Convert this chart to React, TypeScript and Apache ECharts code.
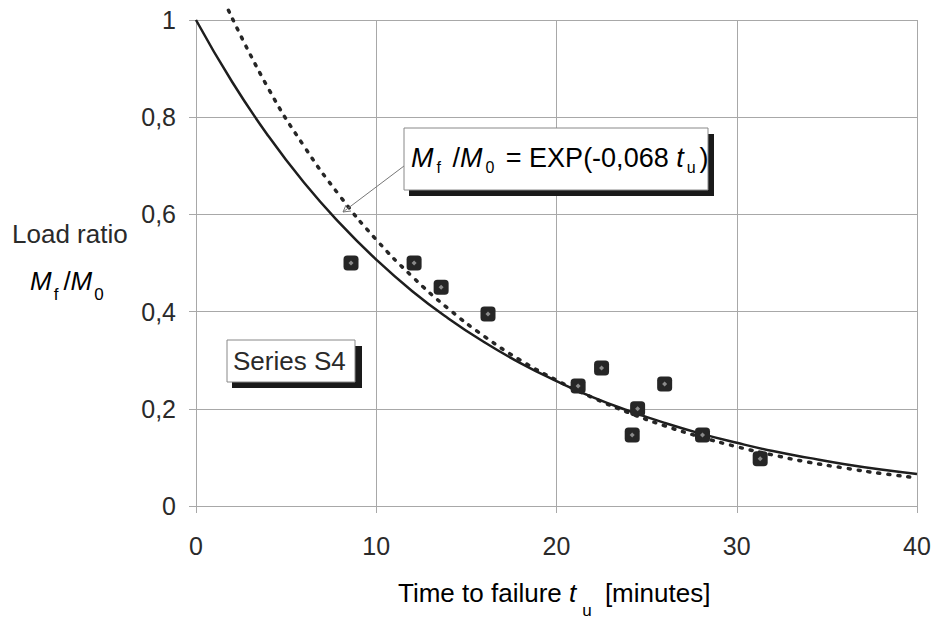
import React, { useEffect, useRef } from "react";
import * as echarts from "echarts";

// Series S4 test points (time to failure t_u [min], load ratio M_f/M_0)
const s4Time = [8.6, 12.1, 13.6, 16.2, 21.2, 22.5, 24.2, 24.5, 26.0, 28.1, 31.3];
const s4Ratio = [0.5, 0.5, 0.45, 0.395, 0.247, 0.284, 0.146, 0.2, 0.251, 0.146, 0.097];

// Solid fitted curve M_f/M_0 = EXP(-0,068 t_u)
const fitTime = [0, 2, 4, 6, 8, 10, 12, 14, 16, 18, 20, 22, 24, 26, 28, 30, 32, 34, 36, 38, 40];
const fitRatio = [1.0, 0.873, 0.762, 0.665, 0.581, 0.507, 0.442, 0.386, 0.337, 0.294, 0.257, 0.224, 0.196, 0.171, 0.149, 0.13, 0.113, 0.099, 0.086, 0.075, 0.066];

// Dotted curve, values
const dotTime = [1.8, 4, 6, 8, 10, 12, 14, 16, 18, 20, 22, 24, 26, 28, 30, 32, 34, 36, 38, 40];
const dotRatio = [1.02, 0.86, 0.74, 0.637, 0.548, 0.472, 0.406, 0.349, 0.3, 0.259, 0.223, 0.192, 0.165, 0.142, 0.122, 0.105, 0.09, 0.078, 0.067, 0.058];

const FONT = "'Liberation Sans', Arial, sans-serif";
const TXT = "#2a2a2a";
const GRID = "#a8a8a8";

// main tokens sit at the top of the line, subscripts at its bottom; line height sets the drop d
const rich = (fs: number, sfs: number, d: number, pl: number, pr: number) => {
  const L = d + fs / 2 + sfs / 2;
  return {
    n: { fontSize: fs, fontFamily: FONT, color: TXT, lineHeight: L, verticalAlign: "top" },
    i: { fontSize: fs, fontFamily: FONT, color: TXT, fontStyle: "italic", lineHeight: L, verticalAlign: "top" },
    s: { fontSize: sfs, fontFamily: FONT, color: TXT, lineHeight: L, verticalAlign: "bottom", padding: [0, pr, 0, pl] },
  };
};

export default function App() {
  const ref = useRef<HTMLDivElement>(null);
  useEffect(() => {
    if (!ref.current) return;
    const chart = echarts.init(ref.current, undefined, { renderer: "svg" });
    const zip = (a: number[], b: number[]) => a.map((v, k) => [v, b[k]]);
    chart.setOption({
      animation: false,
      backgroundColor: "#ffffff",
      grid: { left: 196, right: 27, top: 20, bottom: 124 },
      xAxis: {
        type: "value",
        min: 0,
        max: 40,
        interval: 10,
        axisLine: { show: true, lineStyle: { color: GRID, width: 1 } },
        axisTick: { show: true, inside: false, length: 7, lineStyle: { color: GRID } },
        splitLine: { show: true, lineStyle: { color: GRID, width: 1 } },
        axisLabel: { fontSize: 25, fontFamily: FONT, color: TXT, margin: 27 },
      },
      yAxis: {
        type: "value",
        min: 0,
        max: 1,
        interval: 0.2,
        axisLine: { show: true, lineStyle: { color: GRID, width: 1 } },
        axisTick: { show: true, inside: false, length: 7, lineStyle: { color: GRID } },
        splitLine: { show: true, lineStyle: { color: GRID, width: 1 } },
        axisLabel: {
          fontSize: 25,
          fontFamily: FONT,
          color: TXT,
          margin: 20,
          formatter: (v: number) => (v === 0 ? "0" : v === 1 ? "1" : v.toFixed(1).replace(".", ",")),
        },
      },
      series: [
        {
          type: "line",
          data: zip(dotTime, dotRatio),
          smooth: true,
          showSymbol: false,
          clip: false,
          lineStyle: { color: "#262626", width: 3.5, type: [2, 8], cap: "round" },
          z: 3,
        },
        {
          type: "line",
          data: zip(fitTime, fitRatio),
          smooth: true,
          showSymbol: false,
          lineStyle: { color: "#1e1e1e", width: 2.5 },
          z: 4,
        },
        {
          type: "scatter",
          data: zip(s4Time, s4Ratio),
          symbol: "roundRect",
          symbolSize: 15,
          itemStyle: { color: "#262626", opacity: 1 },
          z: 5,
        },
        {
          type: "scatter",
          data: zip(s4Time, s4Ratio),
          symbol: "diamond",
          symbolSize: 5,
          itemStyle: { color: "#8a8a8a", opacity: 1 },
          silent: true,
          z: 6,
        },
      ],
      graphic: [
        // arrow from annotation to dotted curve
        { type: "line", shape: { x1: 404, y1: 166, x2: 343, y2: 212 }, style: { stroke: "#777", lineWidth: 1 }, z: 10 },
        { type: "polyline", shape: { points: [[351, 211], [343, 212], [346, 205]] }, style: { stroke: "#777", lineWidth: 1, fill: null }, z: 10 },
        // annotation box
        { type: "rect", shape: { x: 409, y: 134, width: 305, height: 62 }, style: { fill: "#1a1a1a" }, z: 10 },
        { type: "rect", shape: { x: 404, y: 128, width: 304, height: 62 }, style: { fill: "#ffffff", stroke: "#888", lineWidth: 1 }, z: 11 },
        {
          type: "text",
          x: 411,
          y: 144,
          style: {
            text: "{i|M}{s|f}{n| /}{i|M}{s|0}{n| = EXP(-0,068 }{i|t}{s|u}{n|)}",
            rich: rich(27, 16, 10, 3, 4),
            verticalAlign: "top",
          },
          z: 12,
        },
        // Series label box
        { type: "rect", shape: { x: 232, y: 346, width: 130, height: 42 }, style: { fill: "#1a1a1a" }, z: 10 },
        { type: "rect", shape: { x: 227, y: 340, width: 128, height: 42 }, style: { fill: "#ffffff", stroke: "#888", lineWidth: 1 }, z: 11 },
        {
          type: "text",
          x: 233,
          y: 361,
          style: { text: "Series S4", fontSize: 26, fontFamily: FONT, fill: TXT, verticalAlign: "middle" },
          z: 12,
        },
        // y axis title
        {
          type: "text",
          x: 12,
          y: 234,
          style: { text: "Load ratio", fontSize: 26, fontFamily: FONT, fill: TXT, verticalAlign: "middle" },
        },
        {
          type: "text",
          x: 30,
          y: 268,
          style: { text: "{i|M}{s|f}{n|/}{i|M}{s|0}", rich: rich(26, 17, 13, 2, 5), verticalAlign: "top" },
        },
        // x axis title
        {
          type: "text",
          x: 398,
          y: 580,
          style: { text: "{n|Time to failure }{i|t}{s|u}{n| [minutes]}", rich: rich(26, 17, 17, 6, 6), verticalAlign: "top" },
        },
      ],
    });
    return () => chart.dispose();
  }, []);
  return <div ref={ref} style={{ width: 944, height: 630, margin: -8 }} />;
}
